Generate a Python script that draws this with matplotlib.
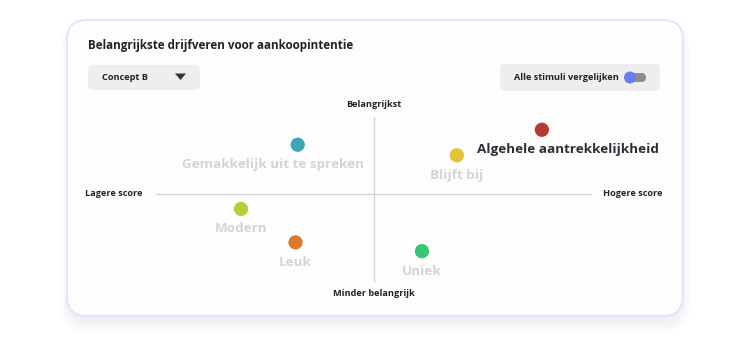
import matplotlib
matplotlib.use("Agg")
import matplotlib.pyplot as plt
from matplotlib.patches import FancyBboxPatch, Polygon, Circle
import numpy as np

# ---- data ----
labels = ["Gemakkelijk uit te spreken", "Modern", "Leuk", "Uniek", "Blijft bij",
          "Algehele aantrekkelijkheid"]
score = [-35, -61, -36, 22, 38, 77]          # x: lagere -> hogere score
importance = [56, -17, -55, -65, 44, 73]     # y: minder -> meer belangrijk
colors = ["#3ba7b4", "#b6cd3c", "#d97a2f", "#33c673", "#e6c236", "#b53c35"]
highlight = [False, False, False, False, False, True]
label_dx = [-25, 0, 0, 0, 0, 26]  # label offsets in px

W, H = 750, 337
plt.rcParams['font.family'] = ['Open Sans', 'DejaVu Sans']
fig = plt.figure(figsize=(W/100, H/100), dpi=100)
fig.patch.set_facecolor("white")

# background / decoration axes in pixel coords
bg = fig.add_axes([0, 0, 1, 1])
bg.set_xlim(0, W); bg.set_ylim(H, 0); bg.axis("off")

# shadow
for i in range(8):
    d = 2 + i * 2.5
    bg.add_patch(FancyBboxPatch((67 - d/2 + 3, 20 + 5), 616 + d - 6, 296 + d/2,
                                boxstyle="round,pad=0,rounding_size=22",
                                fc="#6a70a8", ec="none", alpha=0.012))
# card
bg.add_patch(FancyBboxPatch((67, 20), 616, 296, boxstyle="round,pad=0,rounding_size=20",
                            fc="#fdfdfe", ec="#e2e5fb", lw=1.5))
# title
bg.text(88, 46, "Belangrijkste drijfveren voor aankoopintentie", fontsize=8.35,
        fontweight="bold", color="#222222", va="center", ha="left")
# dropdown
bg.add_patch(FancyBboxPatch((88, 65), 112, 25, boxstyle="round,pad=0,rounding_size=5",
                            fc="#eeeeef", ec="none"))
bg.text(102, 77.5, "Concept B", fontsize=6.6, fontweight="bold", color="#222222",
        va="center", ha="left")
bg.add_patch(Polygon([[175, 73.5], [186, 73.5], [180.5, 80]], closed=True,
                     fc="#333333", ec="none"))
# toggle box
bg.add_patch(FancyBboxPatch((500, 64), 160, 27, boxstyle="round,pad=0,rounding_size=5",
                            fc="#eeeeef", ec="none"))
bg.text(514, 77.5, "Alle stimuli vergelijken", fontsize=6.6, fontweight="bold",
        color="#222222", va="center", ha="left")
bg.add_patch(FancyBboxPatch((626, 73), 20, 9, boxstyle="round,pad=0,rounding_size=4.5",
                            fc="#8d8d8d", ec="none"))
bg.add_patch(Circle((630, 77.5), 6, fc="#6b7cf0", ec="none"))

# ---- quadrant chart ----
ax = fig.add_axes([156/W, (H-282)/H, (592-156)/W, (282-117)/H])
ax.set_xlim(-100, 100)
ax.set_ylim(-100, 87.5)
ax.axis("off")
ax.patch.set_alpha(0)
ax.axhline(0, color="#d4d4d4", lw=1, zorder=1)
ax.axvline(0, color="#d4d4d4", lw=1, zorder=1)

ax.scatter(score, importance, s=105, c=colors, zorder=3, linewidths=0)
for lab, x, y, hl, dx in zip(labels, score, importance, highlight, label_dx):
    ax.annotate(lab, (x, y), xytext=(dx*0.72, -20*0.72), textcoords="offset points",
                ha="center", va="center", fontsize=9.7, fontweight="bold",
                color="#2b2f36" if hl else "#d4d4d4", zorder=2)

# axis end labels
kw = dict(fontsize=6.6, fontweight="bold", color="#222222", va="center")
ax.annotate("Belangrijkst", (0, 1), xycoords=("data", "axes fraction"),
            xytext=(0, 9), textcoords="offset points", ha="center", **kw)
ax.annotate("Minder belangrijk", (0, 0), xycoords=("data", "axes fraction"),
            xytext=(0, -8), textcoords="offset points", ha="center", **kw)
ax.annotate("Lagere score", (0, 0), xycoords=("axes fraction", "data"),
            xytext=(-10, 0), textcoords="offset points", ha="right", **kw)
ax.annotate("Hogere score", (1, 0), xycoords=("axes fraction", "data"),
            xytext=(8, 0), textcoords="offset points", ha="left", **kw)

fig.savefig("out.png", dpi=100, facecolor="white")
